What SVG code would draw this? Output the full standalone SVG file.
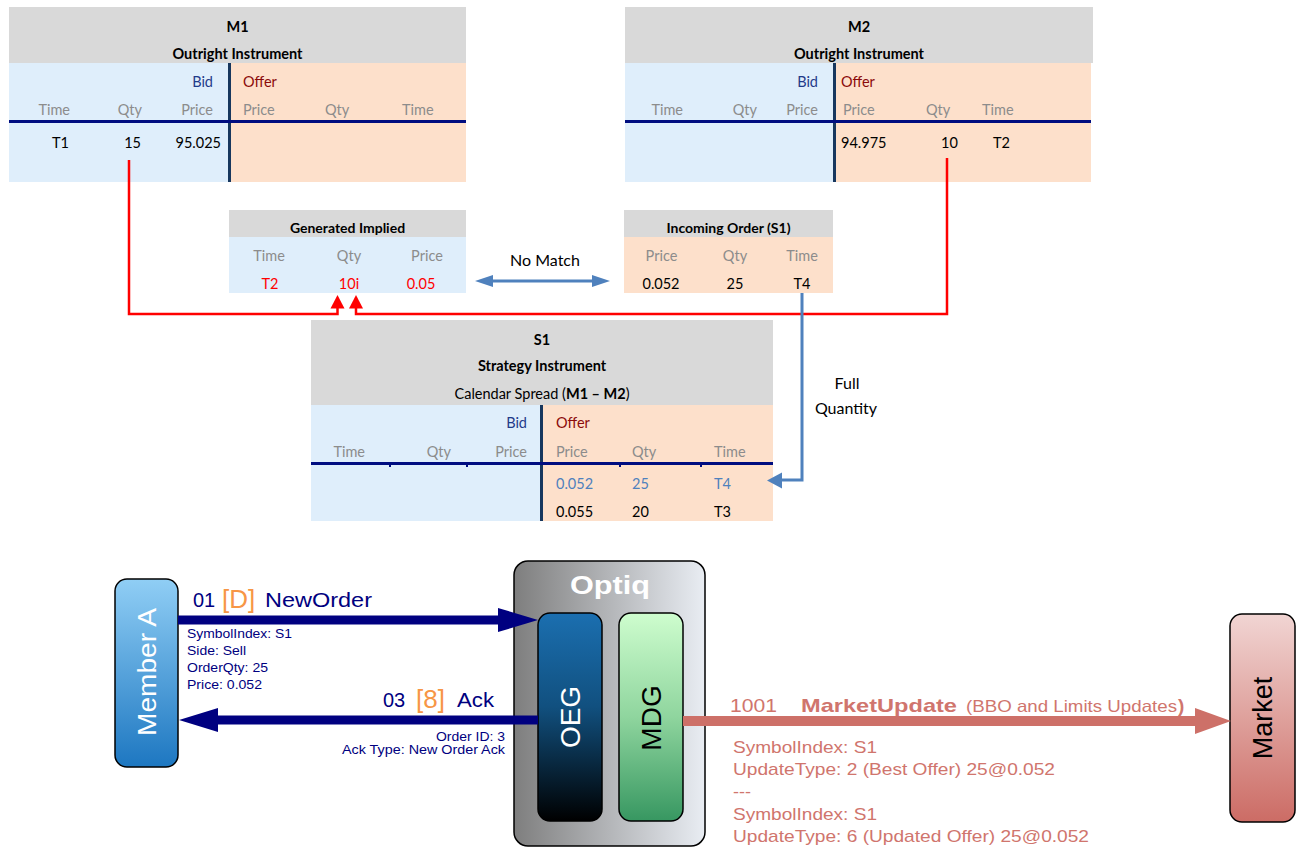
<svg xmlns="http://www.w3.org/2000/svg" width="1302" height="847" viewBox="0 0 1302 847">
<defs>
<style>
.t{font-family:Lato,"Noto Sans","Liberation Sans",sans-serif;font-size:14.5px;fill:#000}
.s13{font-size:14px}
.s16{font-size:16px}
.b{font-weight:bold}
.h{fill:#8c8c8c}
.bid{fill:#1f3a8a}
.off{fill:#8b0a0a}
.r{fill:#ff0000}
.sb{fill:#4f81bd}
.mid{text-anchor:middle}
.end{text-anchor:end}
.gray{fill:#d9d9d9}
.lb{fill:#dfeefb}
.or{fill:#fde0cb}
.vd{fill:#17375e}
.hz{fill:#000d80}
.a{font-family:"Liberation Sans",Arial,sans-serif}
.nv{fill:#000080}
.og{fill:#f79646}
.sa{fill:#d0756d}
.wh{fill:#ffffff}
.box{stroke:#000;stroke-width:1.5}
.red{fill:none;stroke:#ff0000;stroke-width:2.5}
.blu{fill:none;stroke:#4f81bd;stroke-width:3}
</style>
<linearGradient id="gMember" x1="0" y1="0" x2="0" y2="1">
<stop offset="0" stop-color="#90cef5"/><stop offset="1" stop-color="#1d77c1"/>
</linearGradient>
<linearGradient id="gOptiq" x1="0" y1="0" x2="1" y2="0">
<stop offset="0" stop-color="#7e7e7e"/><stop offset="1" stop-color="#e9edf3"/>
</linearGradient>
<linearGradient id="gOEG" x1="0" y1="0" x2="0" y2="1">
<stop offset="0" stop-color="#1b6fb0"/><stop offset="0.45" stop-color="#11507f"/><stop offset="1" stop-color="#000000"/>
</linearGradient>
<linearGradient id="gMDG" x1="0" y1="0" x2="0" y2="1">
<stop offset="0" stop-color="#cefdce"/><stop offset="0.5" stop-color="#8fd59e"/><stop offset="1" stop-color="#379761"/>
</linearGradient>
<linearGradient id="gMarket" x1="0" y1="0" x2="0" y2="1">
<stop offset="0" stop-color="#f1d5d3"/><stop offset="1" stop-color="#cc6c65"/>
</linearGradient>
</defs>
<rect width="1302" height="847" fill="#ffffff"/>

<g id="m1">
<rect class="gray" x="9" y="7" width="457" height="56"/>
<rect class="lb" x="9" y="63" width="220" height="119"/>
<rect class="or" x="229" y="63" width="237" height="119"/>
<rect class="vd" x="228" y="63" width="3" height="119"/>
<rect class="hz" x="9" y="120" width="457" height="3"/>
<text class="t b mid" x="237.5" y="32">M1</text>
<text class="t b mid" x="237.5" y="59">Outright Instrument</text>
<text class="t bid end" x="213" y="87">Bid</text>
<text class="t off" x="243" y="87">Offer</text>
<text class="t h end" x="70" y="115">Time</text>
<text class="t h end" x="142" y="115">Qty</text>
<text class="t h end" x="213" y="115">Price</text>
<text class="t h" x="243" y="115">Price</text>
<text class="t h" x="325" y="115">Qty</text>
<text class="t h" x="402" y="115">Time</text>
<text class="t end" x="69" y="148">T1</text>
<text class="t end" x="141" y="148">15</text>
<text class="t end" x="221" y="148">95.025</text>
</g>

<g id="m2">
<rect class="gray" x="625" y="7" width="468" height="56"/>
<rect class="lb" x="625" y="63" width="209" height="119"/>
<rect class="or" x="834" y="63" width="257" height="119"/>
<rect class="vd" x="833" y="63" width="3" height="119"/>
<rect class="hz" x="625" y="120" width="466" height="3"/>
<text class="t b mid" x="859" y="32">M2</text>
<text class="t b mid" x="859" y="59">Outright Instrument</text>
<text class="t bid end" x="818" y="87">Bid</text>
<text class="t off" x="841" y="87">Offer</text>
<text class="t h end" x="683" y="115">Time</text>
<text class="t h end" x="757" y="115">Qty</text>
<text class="t h end" x="818" y="115">Price</text>
<text class="t h" x="843" y="115">Price</text>
<text class="t h" x="926" y="115">Qty</text>
<text class="t h" x="982" y="115">Time</text>
<text class="t" x="841" y="148">94.975</text>
<text class="t" x="941" y="148">10</text>
<text class="t" x="993" y="148">T2</text>
</g>

<g id="generated-implied">
<rect class="gray" x="229" y="210" width="237" height="27"/>
<rect class="lb" x="229" y="237" width="237" height="56"/>
<text class="t s13 b mid" x="347.5" y="233">Generated Implied</text>
<text class="t h mid" x="269" y="261">Time</text>
<text class="t h mid" x="349" y="261">Qty</text>
<text class="t h mid" x="427" y="261">Price</text>
<text class="t r mid" x="270" y="289">T2</text>
<text class="t r mid" x="349" y="289">10i</text>
<text class="t r mid" x="421" y="289">0.05</text>
</g>

<g id="incoming-order">
<rect class="gray" x="624" y="210" width="209" height="27"/>
<rect class="or" x="624" y="237" width="209" height="56"/>
<text class="t s13 b mid" x="728.5" y="233">Incoming Order (S1)</text>
<text class="t h mid" x="661.5" y="261">Price</text>
<text class="t h mid" x="735" y="261">Qty</text>
<text class="t h mid" x="802" y="261">Time</text>
<text class="t mid" x="661" y="289">0.052</text>
<text class="t mid" x="735" y="289">25</text>
<text class="t mid" x="802" y="289">T4</text>
</g>

<g id="s1">
<rect class="gray" x="311" y="320" width="462" height="85"/>
<rect class="lb" x="311" y="405" width="230" height="116"/>
<rect class="or" x="541" y="405" width="232" height="116"/>
<rect class="vd" x="540" y="405" width="3" height="116"/>
<rect class="hz" x="311" y="462" width="462" height="3"/>
<rect class="hz" x="389" y="464" width="2" height="3"/>
<rect class="hz" x="466" y="464" width="2" height="3"/>
<rect class="hz" x="619" y="464" width="2" height="3"/>
<rect class="hz" x="700" y="464" width="2" height="3"/>
<text class="t b mid" x="542" y="345">S1</text>
<text class="t b mid" x="542" y="371">Strategy Instrument</text>
<text class="t mid" x="542" y="399">Calendar Spread (<tspan class="b">M1 – M2</tspan>)</text>
<text class="t bid end" x="527" y="428">Bid</text>
<text class="t off" x="556" y="428">Offer</text>
<text class="t h end" x="365" y="457">Time</text>
<text class="t h end" x="451" y="457">Qty</text>
<text class="t h end" x="527" y="457">Price</text>
<text class="t h" x="556" y="457">Price</text>
<text class="t h" x="632" y="457">Qty</text>
<text class="t h" x="714" y="457">Time</text>
<text class="t sb" x="556" y="489">0.052</text>
<text class="t sb" x="632" y="489">25</text>
<text class="t sb" x="714" y="489">T4</text>
<text class="t" x="556" y="517">0.055</text>
<text class="t" x="632" y="517">20</text>
<text class="t" x="714" y="517">T3</text>
</g>

<g id="member-a">
<rect class="box" x="115" y="579" width="63" height="188" rx="12" fill="url(#gMember)"/>
<text class="a wh" font-size="26" text-anchor="middle" textLength="128" lengthAdjust="spacingAndGlyphs" transform="translate(156,672) rotate(-90)">Member A</text>
</g>

<g id="optiq">
<rect class="box" x="514" y="561" width="191" height="285" rx="14" fill="url(#gOptiq)"/>
<text class="a wh" font-size="25" font-weight="bold" text-anchor="middle" textLength="80" lengthAdjust="spacingAndGlyphs" x="610" y="594">Optiq</text>
</g>

<g id="oeg">
<rect class="box" x="538" y="613" width="64" height="208" rx="12" fill="url(#gOEG)"/>
<text class="a wh" font-size="28" text-anchor="middle" transform="translate(580,717) rotate(-90)">OEG</text>
</g>

<g id="mdg">
<rect class="box" x="619" y="613" width="64" height="208" rx="12" fill="url(#gMDG)"/>
<text class="a" font-size="28" fill="#000" text-anchor="middle" transform="translate(661,718) rotate(-90)">MDG</text>
</g>

<g id="market">
<rect class="box" x="1230" y="614" width="65" height="208" rx="12" fill="url(#gMarket)"/>
<text class="a" font-size="27" fill="#000" text-anchor="middle" transform="translate(1272,718) rotate(-90)">Market</text>
</g>

<g id="connectors">
<path class="red" d="M129,160 V314 H337.5 V307"/>
<polygon fill="#ff0000" points="330.5,308.5 337.5,295 344.5,308.5"/>
<path class="red" d="M947,158 V314 H356 V307"/>
<polygon fill="#ff0000" points="349,308.5 356,295 363,308.5"/>

<line x1="490" y1="281" x2="595" y2="281" stroke="#4f81bd" stroke-width="3"/>
<polygon fill="#4f81bd" points="475,281 493,275 493,287"/>
<polygon fill="#4f81bd" points="610,281 592,275 592,287"/>
<text class="t s16 mid" x="545" y="266">No Match</text>

<path class="blu" d="M802,293 V480 H780"/>
<polygon fill="#4f81bd" points="767,480.5 782,472.5 782,488.5"/>
<text class="t s16 mid" x="847" y="389">Full</text>
<text class="t s16 mid" x="846" y="414">Quantity</text>

<line x1="178" y1="620" x2="500" y2="620" stroke="#000080" stroke-width="9"/>
<polygon fill="#000080" points="498,608 538,620 498,632"/>
<text class="a nv" font-size="20" x="193" y="607">01</text>
<text class="a og" font-size="26" x="222" y="608">[D]</text>
<text class="a nv" font-size="20" x="265" y="607" textLength="107" lengthAdjust="spacingAndGlyphs">NewOrder</text>
<text class="a nv" font-size="13" x="187" y="638" textLength="105" lengthAdjust="spacingAndGlyphs">SymbolIndex: S1</text>
<text class="a nv" font-size="13" x="187" y="655" textLength="59" lengthAdjust="spacingAndGlyphs">Side: Sell</text>
<text class="a nv" font-size="13" x="187" y="672" textLength="81" lengthAdjust="spacingAndGlyphs">OrderQty: 25</text>
<text class="a nv" font-size="13" x="187" y="689" textLength="75" lengthAdjust="spacingAndGlyphs">Price: 0.052</text>

<line x1="538" y1="720" x2="216" y2="720" stroke="#000080" stroke-width="9"/>
<polygon fill="#000080" points="218,708 179,720 218,732"/>
<text class="a nv" font-size="20" x="383" y="707">03</text>
<text class="a og" font-size="26" x="416" y="708">[8]</text>
<text class="a nv" font-size="20" x="457" y="707" textLength="37" lengthAdjust="spacingAndGlyphs">Ack</text>
<text class="a nv end" font-size="13" x="505" y="741" textLength="69" lengthAdjust="spacingAndGlyphs">Order ID: 3</text>
<text class="a nv end" font-size="13" x="505" y="754" textLength="163" lengthAdjust="spacingAndGlyphs">Ack Type: New Order Ack</text>

<line x1="683" y1="721" x2="1197" y2="721" stroke="#cd7068" stroke-width="10"/>
<polygon fill="#cd7068" points="1195,708 1231,721 1195,734"/>
<text class="a sa" font-size="19" x="730" y="712" textLength="47" lengthAdjust="spacingAndGlyphs">1001</text>
<text class="a sa" font-size="19" font-weight="bold" x="801" y="712" textLength="156" lengthAdjust="spacingAndGlyphs">MarketUpdate</text>
<text class="a sa" font-size="16.5" x="966" y="712" textLength="211" lengthAdjust="spacingAndGlyphs">(BBO and Limits Updates</text>
<text class="a sa" font-size="19" font-weight="bold" x="1178" y="712">)</text>
<text class="a sa" font-size="17" x="733" y="753" textLength="144" lengthAdjust="spacingAndGlyphs">SymbolIndex: S1</text>
<text class="a sa" font-size="17" x="733" y="775" textLength="322" lengthAdjust="spacingAndGlyphs">UpdateType: 2 (Best Offer) 25@0.052</text>
<text class="a sa" font-size="17" x="733" y="797" textLength="18" lengthAdjust="spacingAndGlyphs">---</text>
<text class="a sa" font-size="17" x="733" y="820" textLength="144" lengthAdjust="spacingAndGlyphs">SymbolIndex: S1</text>
<text class="a sa" font-size="17" x="733" y="842" textLength="356" lengthAdjust="spacingAndGlyphs">UpdateType: 6 (Updated Offer) 25@0.052</text>
</g>
</svg>
